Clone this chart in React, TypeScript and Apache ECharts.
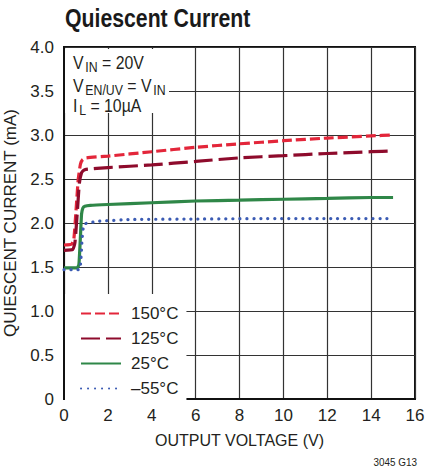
import React, { useEffect, useRef } from 'react';
import * as echarts from 'echarts';

const FONT = '"Liberation Sans", Arial, sans-serif';

const seriesNames = ['150°C', '125°C', '25°C', '–55°C'];

const x150 = [0, 0.35, 0.45, 0.55, 0.65, 0.75, 0.85, 1, 2, 4, 6, 8, 10, 12, 14, 15];
const y150 = [1.75, 1.76, 1.82, 2.15, 2.5, 2.67, 2.72, 2.74, 2.76, 2.81, 2.86, 2.9, 2.935, 2.965, 2.99, 3.0];

const x125 = [0, 0.4, 0.5, 0.6, 0.7, 0.8, 0.9, 1, 2, 4, 6, 8, 10, 12, 14, 15];
const y125 = [1.69, 1.7, 1.78, 2.1, 2.45, 2.57, 2.6, 2.61, 2.63, 2.66, 2.7, 2.74, 2.765, 2.79, 2.81, 2.82];

const x25 = [0, 0.6, 0.68, 0.74, 0.8, 0.86, 0.95, 1.2, 2, 4, 6, 8, 10, 12, 14, 15];
const y25 = [1.49, 1.49, 1.53, 1.8, 2.1, 2.17, 2.19, 2.2, 2.21, 2.23, 2.25, 2.26, 2.27, 2.28, 2.29, 2.29];

const xM55 = [0, 0.7, 0.76, 0.82, 0.88, 0.95, 1.1, 1.6, 3, 6, 9, 12, 15];
const yM55 = [1.47, 1.47, 1.55, 1.8, 1.95, 1.99, 2.0, 2.02, 2.04, 2.045, 2.05, 2.05, 2.05];

const xMin = 0, xMax = 16, xStep = 2;
const yMin = 0, yMax = 4, yStep = 0.5;

const zip = (xs: number[], ys: number[]) => xs.map((x, i) => [x, ys[i]]);

export default function App() {
  const ref = useRef<HTMLDivElement>(null);
  useEffect(() => {
    if (!ref.current) return;
    const chart = echarts.init(ref.current, undefined, { renderer: 'svg' });
    const textBase = { fontFamily: FONT, color: '#231f20' };
    const mk = (name: string, xs: number[], ys: number[], color: string, type: any, cap: any = 'butt') => ({
      name,
      type: 'line',
      data: zip(xs, ys),
      symbol: 'none',
      smooth: 0.15,
      z: 3,
      lineStyle: { color, width: 3.2, type, cap },
      itemStyle: { color },
    });
    const rich = {
      a: { fontFamily: FONT, fontSize: 18, fill: '#231f20' },
      b: { fontFamily: FONT, fontSize: 14, fill: '#231f20', padding: [8, 0, 0, 2] },
    };
    chart.setOption({
      animation: false,
      backgroundColor: '#fff',
      grid: {
        left: 64, right: 12, top: 47, bottom: 68,
        outerBoundsMode: 'none', containLabel: false,
        show: true, borderColor: '#111', borderWidth: 2, backgroundColor: 'transparent',
      },
      xAxis: {
        type: 'value', min: xMin, max: xMax, interval: xStep,
        name: 'OUTPUT VOLTAGE (V)', nameLocation: 'middle', nameGap: 33,
        nameTextStyle: { ...textBase, fontSize: 16 },
        axisLine: { show: true, lineStyle: { color: '#111', width: 2 } },
        axisTick: { show: false },
        axisLabel: { ...textBase, fontSize: 17, margin: 8 },
        splitLine: { show: true, lineStyle: { color: '#333', width: 1.2 } },
      },
      yAxis: {
        type: 'value', min: yMin, max: yMax, interval: yStep,
        name: 'QUIESCENT CURRENT (mA)', nameLocation: 'middle', nameGap: 44,
        nameTextStyle: { ...textBase, fontSize: 17 },
        axisLine: { show: true, lineStyle: { color: '#111', width: 2 } },
        axisTick: { show: false },
        axisLabel: {
          ...textBase, fontSize: 17, margin: 10,
          formatter: (v: number) => (v === 0 ? '0' : v.toFixed(1)),
        },
        splitLine: { show: true, lineStyle: { color: '#333', width: 1.2 } },
      },
      legend: {
        orient: 'vertical',
        left: 65, top: 294,
        padding: [11, 8, 8, 15],
        itemWidth: 40, itemHeight: 14, itemGap: 8,
        backgroundColor: '#fff',
        itemStyle: { opacity: 0 },
        textStyle: { ...textBase, fontSize: 17, padding: [0, 0, 0, 5] },
        data: seriesNames,
      },
      series: [
        mk(seriesNames[0], x150, y150, '#e3263a', [10, 4]),
        mk(seriesNames[1], x125, y125, '#8e0b2c', [19, 6]),
        mk(seriesNames[2], x25, y25, '#2f8748', 'solid'),
        mk(seriesNames[3], xM55, yM55, '#3b5bb3', [0.1, 6.9], 'round'),
      ],
      graphic: [
        { type: 'rect', z: 1, shape: { x: 65, y: 49, width: 104, height: 64 }, style: { fill: '#fff' } },
        {
          type: 'text', z: 2, x: 73, y: 63, scaleX: 0.88,
          style: { text: '{a|V}{b|IN}{a| = 20V}', verticalAlign: 'middle', rich },
        },
        {
          type: 'text', z: 2, x: 73, y: 86, scaleX: 0.88,
          style: { text: '{a|V}{b|EN/UV}{a| = V}{b|IN}', verticalAlign: 'middle', rich },
        },
        {
          type: 'text', z: 2, x: 73, y: 106, scaleX: 0.88,
          style: { text: '{a|I}{b|L}{a| = 10µA}', verticalAlign: 'middle', rich },
        },
        {
          type: 'text', x: 65, y: 18, scaleX: 0.85,
          style: { text: 'Quiescent Current', fontFamily: FONT, fontSize: 25, fontWeight: 'bold', fill: '#1a1a1a', verticalAlign: 'middle' },
        },
        {
          type: 'text', x: 417, y: 462, scaleX: 0.9,
          style: { text: '3045 G13', fontFamily: FONT, fontSize: 11, fill: '#231f20', align: 'right', verticalAlign: 'middle' },
        },
      ],
    });
    return () => chart.dispose();
  }, []);
  return <div ref={ref} style={{ width: 427, height: 467, position: 'absolute', left: 0, top: 0 }} />;
}
